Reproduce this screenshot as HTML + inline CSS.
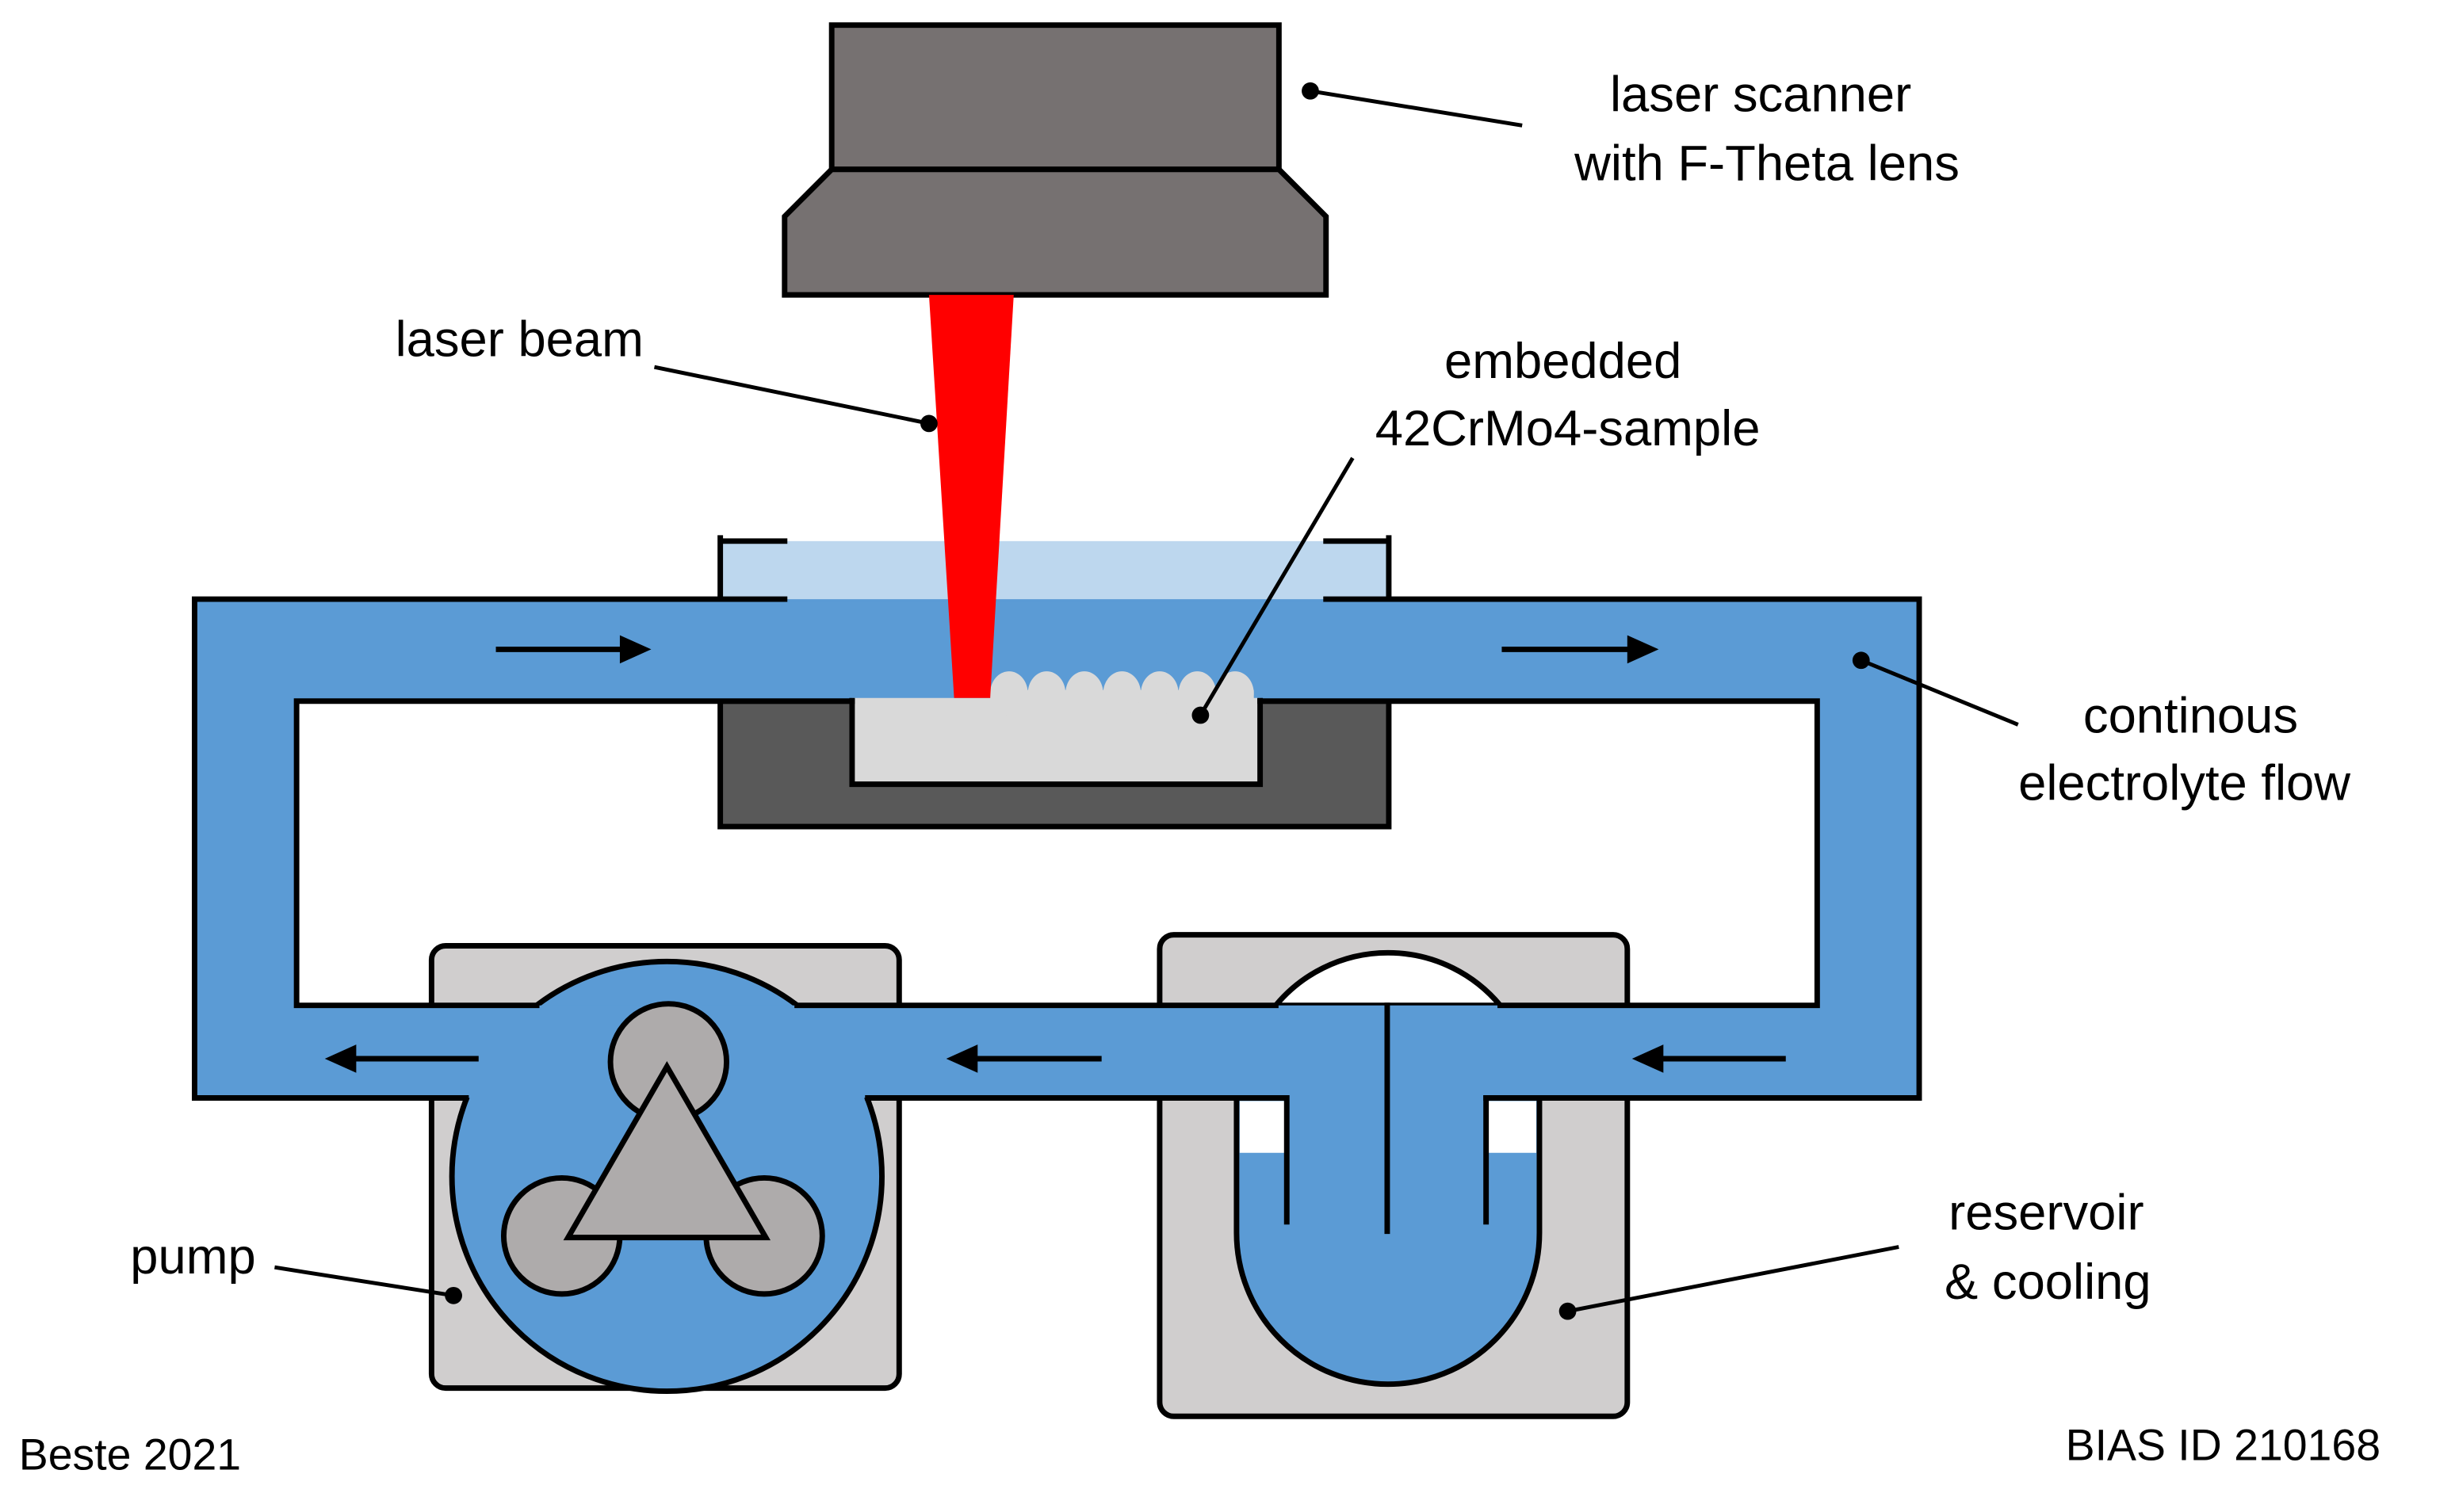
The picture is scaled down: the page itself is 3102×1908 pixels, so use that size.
<!DOCTYPE html>
<html><head><meta charset="utf-8"><style>
html,body{margin:0;padding:0;background:#fff;}
svg{display:block;}
text{font-family:"Liberation Sans",sans-serif;font-size:32px;fill:#000;}
</style></head><body>
<svg width="3102" height="1908" viewBox="0 0 1567 964" preserveAspectRatio="none" xmlns="http://www.w3.org/2000/svg">
<rect x="530" y="16" width="285" height="92" fill="#767171" stroke="#000" stroke-width="3.5"/>
<polygon points="530,108 815,108 845,138 845,188 500,188 500,138" fill="#767171" stroke="#000" stroke-width="3.5"/>
<rect x="459" y="345" width="426" height="38" fill="#BDD7EE"/>
<rect x="459" y="447" width="426" height="80" fill="#595959" stroke="#000" stroke-width="3.5"/>
<rect x="275" y="603" width="298" height="282" rx="9" fill="#D0CECE" stroke="#000" stroke-width="3.5"/>
<rect x="739" y="596" width="298" height="307" rx="9" fill="#D0CECE" stroke="#000" stroke-width="3.5"/>
<path d="M813 641 A93 93 0 0 1 956 641 Z" fill="#fff" stroke="#000" stroke-width="3.5"/>
<path d="M788 700 L788 786 A96.5 96.5 0 0 0 981 786 L981 700" fill="#5B9BD5" stroke="#000" stroke-width="3.5"/>
<rect x="790" y="702" width="29" height="33" fill="#fff"/>
<rect x="948" y="702" width="31" height="33" fill="#fff"/>
<circle cx="425" cy="750" r="137" fill="#5B9BD5" stroke="#000" stroke-width="3.5"/>
<path d="M124 382 H1223 V700 H124 Z M189 447 V641 H1158 V447 Z" fill="#5B9BD5" fill-rule="evenodd"/>
<rect x="459" y="383" width="426" height="64" fill="#5B9BD5"/>
<rect x="543" y="445" width="260" height="55" fill="#D9D9D9"/>
<path d="M543 445 V500 H803 V445" fill="none" stroke="#000" stroke-width="3.5"/>
<g fill="#D9D9D9">
<ellipse cx="643" cy="442" rx="12" ry="14"/><ellipse cx="667" cy="442" rx="12" ry="14"/>
<ellipse cx="691" cy="442" rx="12" ry="14"/><ellipse cx="715" cy="442" rx="12" ry="14"/>
<ellipse cx="739" cy="442" rx="12" ry="14"/><ellipse cx="763" cy="442" rx="12" ry="14"/>
<ellipse cx="787" cy="442" rx="12" ry="14"/>
<rect x="631" y="440" width="168" height="7"/>
</g>
<g stroke="#000" stroke-width="3.5" fill="none" stroke-linecap="square">
<path d="M500 382 H124 V700 H297"/>
<path d="M845 382 H1223 V700 H947"/>
<path d="M553 700 H820 V779"/>
<path d="M947 700 V779"/>
<path d="M884 641 V785"/>
<path d="M342 641 H189 V447 H543"/>
<path d="M508 641 H813"/>
<path d="M956 641 H1158 V447 H803"/>
<path d="M459 343 V382 M459 345 H500 M885 343 V382 M885 345 H845"/>
</g>
<g fill="#AEABAB" stroke="#000" stroke-width="3.5">
<circle cx="426" cy="677" r="37"/><circle cx="358" cy="788" r="37"/><circle cx="487" cy="788" r="37"/>
<polygon points="425,680 362,789 488,789"/>
</g>
<polygon points="592,188 646,188 631,445 608,445" fill="#FF0000"/>
<g stroke="#000" stroke-width="3.5">
<line x1="316" y1="414" x2="400" y2="414"/><line x1="957" y1="414" x2="1042" y2="414"/>
<line x1="305" y1="675" x2="222" y2="675"/><line x1="702" y1="675" x2="618" y2="675"/><line x1="1138" y1="675" x2="1055" y2="675"/>
</g>
<g fill="#000">
<polygon points="395,405 415,414 395,423"/><polygon points="1037,405 1057,414 1037,423"/>
<polygon points="227,666 207,675 227,684"/><polygon points="623,666 603,675 623,684"/><polygon points="1060,666 1040,675 1060,684"/>
</g>
<g stroke="#000" stroke-width="2.5">
<line x1="835" y1="58" x2="970" y2="80"/>
<line x1="417" y1="234" x2="592" y2="270"/>
<line x1="862" y1="292" x2="765" y2="456"/>
<line x1="1186" y1="421" x2="1286" y2="462"/>
<line x1="1210" y1="795" x2="999" y2="836"/>
<line x1="175" y1="808" x2="289" y2="826"/>
</g>
<g fill="#000">
<circle cx="835" cy="58" r="5.5"/><circle cx="592" cy="270" r="5.5"/><circle cx="765" cy="456" r="5.5"/>
<circle cx="1186" cy="421" r="5.5"/><circle cx="999" cy="836" r="5.5"/><circle cx="289" cy="826" r="5.5"/>
</g>
<text x="1122" y="71" text-anchor="middle">laser scanner</text>
<text x="1126" y="115" text-anchor="middle">with F-Theta lens</text>
<text x="331" y="227" text-anchor="middle">laser beam</text>
<text x="996" y="241" text-anchor="middle">embedded</text>
<text x="999" y="284" text-anchor="middle">42CrMo4-sample</text>
<text x="1396" y="467" text-anchor="middle">continous</text>
<text x="1392" y="510" text-anchor="middle">electrolyte flow</text>
<text x="1304" y="784" text-anchor="middle">reservoir</text>
<text x="1305" y="828" text-anchor="middle">&amp; cooling</text>
<text x="123" y="812" text-anchor="middle">pump</text>
<text x="12" y="937" style="font-size:28px">Beste 2021</text>
<text x="1517" y="931" text-anchor="end" style="font-size:28px">BIAS ID 210168</text>
</svg>
</body></html>
